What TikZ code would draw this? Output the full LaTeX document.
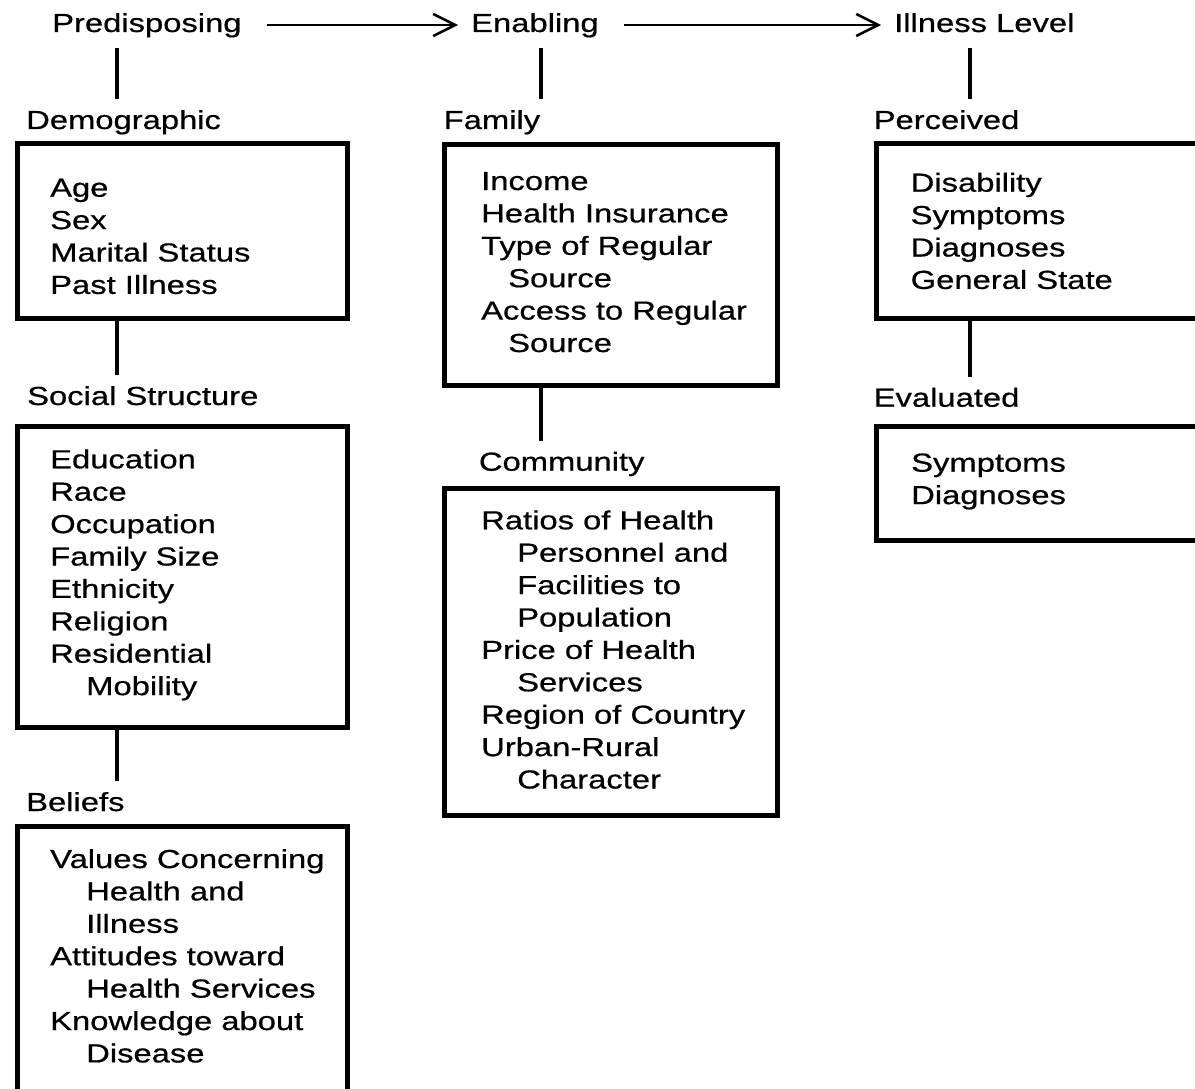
\documentclass[tikz,border=0pt]{standalone}
\usepackage{fontspec}
\setmainfont{Liberation Sans}[FakeStretch=1.255,FakeBold=0.6]
\usepackage{tikz}
\usetikzlibrary{arrows.meta}

\tikzset{
  head/.style={anchor=base west, inner sep=0pt, outer ysep=10.5pt, text height=19.5pt, text depth=5.5pt},
  items/.style={anchor=base west, inner sep=0pt, align=left},
  box/.style={draw, line width=5pt, inner sep=0pt},
  conn/.style={line width=4pt},
  flow/.style={line width=2.5pt, -{Straight Barb[length=22pt,width=22pt]}, shorten <=25pt, shorten >=13pt}
}
\newcommand{\indentline}{\hspace*{36pt}}

\begin{document}
\begin{tikzpicture}[x=1pt,y=-1pt,font=\fontsize{26.1pt}{32.4pt}\selectfont]
\useasboundingbox (0,0) rectangle (1195,1089);
\fill[white] (0,0) rectangle (1195,1089);
\clip (0,0) rectangle (1195,1089);

% top row
\node[head] (predis) at (52,32) {Predisposing};
\node[head] (enabl) at (471,32) {Enabling};
\node[head] (illlev) at (894,32) {Illness Level};
\draw[flow] (predis.east) -- (enabl.west);
\draw[flow] (enabl.east) -- (illlev.west);

\coordinate (lefttrunk) at (117,0);
\coordinate (midtrunk) at (541,0);
\coordinate (righttrunk) at (970,0);

% predisposing column (lists sit on the baseline of their last line)
\node[head] (demohd) at (26,129) {Demographic};
\node[box, minimum width=330pt, minimum height=174pt] (demobox) at (182.5,231) {};
\node[items] (demolist) at (50,293.9) {Age\\Sex\\Marital Status\\Past Illness};
\node[head] (sochd) at (27,405) {Social Structure};
\node[box, minimum width=330pt, minimum height=300.7pt] (socbox) at (182.5,576.65) {};
\node[items] (soclist) at (50,695.1) {Education\\Race\\Occupation\\Family Size\\Ethnicity\\Religion\\Residential\\\indentline Mobility};
\node[head] (belhd) at (26,811) {Beliefs};
\node[box, minimum width=330pt, minimum height=268.3pt] (belbox) at (182.5,960.85) {};
\node[items] (bellist) at (50,1062.4) {Values Concerning\\\indentline Health and\\\indentline Illness\\Attitudes toward\\\indentline Health Services\\Knowledge about\\\indentline Disease};
\draw[conn] (predis.south -| lefttrunk) -- (demohd.north -| lefttrunk);
\draw[conn] (demobox.south -| lefttrunk) -- (sochd.north -| lefttrunk);
\draw[conn] (socbox.south -| lefttrunk) -- (belhd.north -| lefttrunk);

% enabling column
\node[head] (famihd) at (443.5,129) {Family};
\node[box, minimum width=332.5pt, minimum height=241.3pt] (famibox) at (610.75,265.15) {};
\node[items] (familist) at (481,352) {Income\\Health Insurance\\Type of Regular\\\hspace*{27pt}Source\\Access to Regular\\\hspace*{27pt}Source};
\node[head] (commhd) at (478.7,470.7) {Community};
\node[box, minimum width=333pt, minimum height=327pt] (commbox) at (610.5,652) {};
\node[items] (commlist) at (481,788.5) {Ratios of Health\\\indentline Personnel and\\\indentline Facilities to\\\indentline Population\\Price of Health\\\indentline Services\\Region of Country\\Urban-Rural\\\indentline Character};
\draw[conn] (enabl.south -| midtrunk) -- (famihd.north -| midtrunk);
\draw[conn] (famibox.south -| midtrunk) -- (commhd.north -| midtrunk);

% illness level column
\node[head] (perchd) at (873.5,129) {Perceived};
\node[box, minimum width=339pt, minimum height=174.5pt] (percbox) at (1045.5,231.25) {};
\node[items] (perclist) at (910.5,288.9) {Disability\\Symptoms\\Diagnoses\\General State};
\node[head] (evalhd) at (873.5,406.7) {Evaluated};
\node[box, minimum width=339pt, minimum height=114pt] (evalbox) at (1045.5,483.5) {};
\node[items] (evallist) at (911,504.1) {Symptoms\\Diagnoses};
\draw[conn] (illlev.south -| righttrunk) -- (perchd.north -| righttrunk);
\draw[conn] (percbox.south -| righttrunk) -- (evalhd.north -| righttrunk);
\end{tikzpicture}
\end{document}
